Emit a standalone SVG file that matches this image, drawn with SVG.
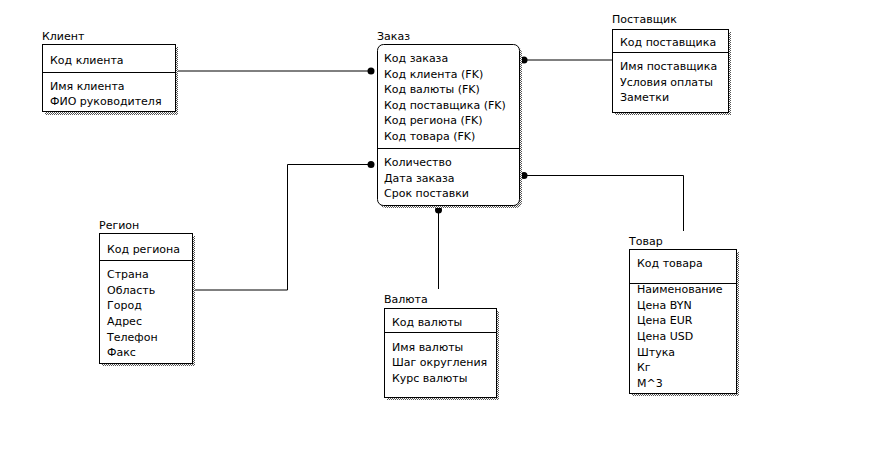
<svg xmlns="http://www.w3.org/2000/svg" width="876" height="458" viewBox="0 0 876 458">
  <defs>
    <pattern id="dots" width="2" height="2" patternUnits="userSpaceOnUse">
      <rect width="2" height="2" fill="#fff"/>
      <rect width="1" height="1" fill="#555"/>
      <rect x="1" y="1" width="1" height="1" fill="#555"/>
    </pattern>
  </defs>
  <style>
    text { font-family: "DejaVu Sans", Verdana, sans-serif; font-size: 11px; fill: #000; }
    .box { fill: #fff; stroke: #000; stroke-width: 1; }
    .shadow { fill: url(#dots); stroke: none; }
    .div { stroke: #000; stroke-width: 1; }
    .link { fill: none; stroke: #000; stroke-width: 1; }
    .dot { fill: #000; }
  </style>
  <rect width="876" height="458" fill="#fff"/>

  <!-- connectors -->
  <g id="connectors">
    <polyline class="link" points="177,71 371,71"/>
    <circle class="dot" cx="371" cy="71" r="3.5"/>
    <polyline class="link" points="524,60 612,60"/>
    <circle class="dot" cx="524" cy="60" r="3.5"/>
    <polyline class="link" points="195,290 287.5,290 287.5,164.5 371,164.5"/>
    <circle class="dot" cx="371" cy="164.5" r="3.5"/>
    <polyline class="link" points="524,175.5 683.5,175.5 683.5,231"/>
    <circle class="dot" cx="524" cy="175.5" r="3.5"/>
    <polyline class="link" points="438.5,210 438.5,289"/>
    <circle class="dot" cx="438.5" cy="210" r="3.5"/>
  </g>

  <!-- Клиент -->
  <g id="client">
    <rect class="shadow" x="45" y="47" width="133" height="68"/>
    <rect class="box" x="42.5" y="44.5" width="133" height="67"/>
    <line class="div" x1="42.5" y1="72.5" x2="175.5" y2="72.5"/>
    <text x="42" y="40">Клиент</text>
    <text x="50" y="64">Код клиента</text>
    <text x="50" y="90">Имя клиента</text>
    <text x="50" y="105">ФИО руководителя</text>
  </g>

  <!-- Заказ -->
  <g id="order">
    <rect class="shadow" x="380" y="47" width="142" height="161" rx="6"/>
    <rect class="box" x="377.5" y="44.5" width="142" height="161" rx="6"/>
    <line class="div" x1="377.5" y1="148.5" x2="519.5" y2="148.5"/>
    <text x="377" y="40">Заказ</text>
    <text x="384" y="62">Код заказа</text>
    <text x="384" y="77.5">Код клиента (FK)</text>
    <text x="384" y="93">Код валюты (FK)</text>
    <text x="384" y="108.5">Код поставщика (FK)</text>
    <text x="384" y="124">Код региона (FK)</text>
    <text x="384" y="140">Код товара (FK)</text>
    <text x="384" y="166">Количество</text>
    <text x="384" y="181.5">Дата заказа</text>
    <text x="384" y="197">Срок поставки</text>
  </g>

  <!-- Поставщик -->
  <g id="supplier">
    <rect class="shadow" x="615" y="32" width="116" height="83"/>
    <rect class="box" x="612.5" y="29.5" width="116" height="83"/>
    <line class="div" x1="612.5" y1="52.5" x2="728.5" y2="52.5"/>
    <text x="612" y="23">Поставщик</text>
    <text x="620" y="46">Код поставщика</text>
    <text x="620" y="70">Имя поставщика</text>
    <text x="620" y="86">Условия оплаты</text>
    <text x="620" y="101">Заметки</text>
  </g>

  <!-- Регион -->
  <g id="region">
    <rect class="shadow" x="102" y="236" width="93" height="130"/>
    <rect class="box" x="99.5" y="233.5" width="93" height="130"/>
    <line class="div" x1="99.5" y1="260.5" x2="192.5" y2="260.5"/>
    <text x="99" y="229">Регион</text>
    <text x="107" y="253">Код региона</text>
    <text x="107" y="278">Страна</text>
    <text x="107" y="294">Область</text>
    <text x="107" y="309">Город</text>
    <text x="107" y="325">Адрес</text>
    <text x="107" y="341">Телефон</text>
    <text x="107" y="356">Факс</text>
  </g>

  <!-- Валюта -->
  <g id="currency">
    <rect class="shadow" x="387" y="311" width="112" height="89"/>
    <rect class="box" x="384.5" y="308.5" width="112" height="89"/>
    <line class="div" x1="384.5" y1="332.5" x2="496.5" y2="332.5"/>
    <text x="384" y="303">Валюта</text>
    <text x="392" y="326">Код валюты</text>
    <text x="392" y="351">Имя валюты</text>
    <text x="392" y="366">Шаг округления</text>
    <text x="392" y="382">Курс валюты</text>
  </g>

  <!-- Товар -->
  <g id="product">
    <rect class="shadow" x="632" y="252" width="107" height="144"/>
    <rect class="box" x="629.5" y="249.5" width="107" height="144"/>
    <line class="div" x1="629.5" y1="283.5" x2="736.5" y2="283.5"/>
    <text x="629" y="245">Товар</text>
    <text x="637" y="267">Код товара</text>
    <text x="637" y="293">Наименование</text>
    <text x="637" y="309">Цена BYN</text>
    <text x="637" y="324">Цена EUR</text>
    <text x="637" y="340">Цена USD</text>
    <text x="637" y="356">Штука</text>
    <text x="637" y="371">Кг</text>
    <text x="637" y="387">М^3</text>
  </g>
</svg>
